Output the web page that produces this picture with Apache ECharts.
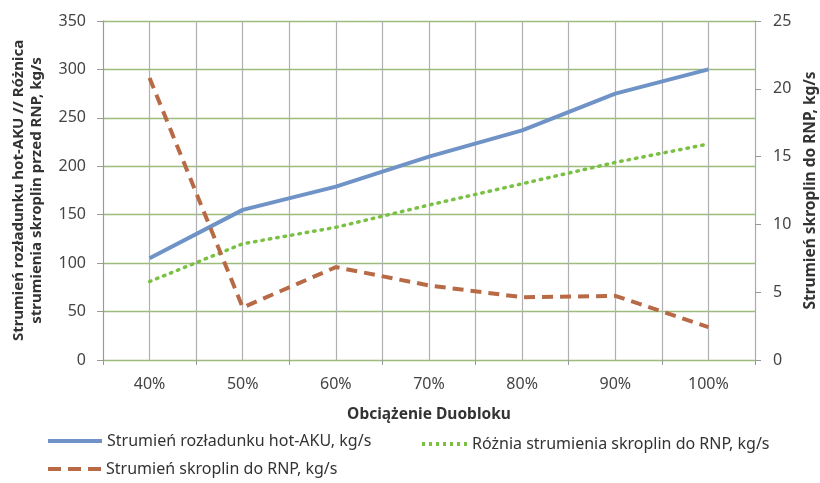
<!DOCTYPE html>
<html><head><meta charset="utf-8">
<script src="https://cdn.jsdelivr.net/npm/echarts@6/dist/echarts.min.js"></script>
<style>html,body{margin:0;padding:0;background:#fff}#c{width:820px;height:483px}</style>
</head><body><div id="c"></div>
<script>
const categories = ['40%','50%','60%','70%','80%','90%','100%'];
const halfCategories = ['a','b','c','d','e','f','g','h','i','j','k','l','m','n'];
const hotAku = [105, 155, 179, 210, 237, 275, 300];
const roznica = [81, 120, 137, 160, 182, 204, 223];
const skropliny = [20.8, 3.87, 6.85, 5.5, 4.63, 4.73, 2.42];
const leftTicks = [0, 350, 50];
const rightTicks = [0, 25, 5];
const names = ['Strumień rozładunku hot-AKU, kg/s','Różnia strumienia skroplin do RNP, kg/s','Strumień skroplin do RNP, kg/s'];

const FONT = "'Noto Sans',sans-serif";
const chart = echarts.init(document.getElementById('c'));
const legendBase = {orient:'horizontal', itemHeight:4, symbolKeepAspect:false,
  textStyle:{fontFamily:FONT, fontSize:16, color:'#333'}};
const solidIcon = 'path://M0,0h56v4h-56z';
const dotIcon = 'path://M0,0h3v4h-3zM7,0h3v4h-3zM14,0h3v4h-3zM21,0h3v4h-3zM28,0h3v4h-3zM35,0h3v4h-3zM42,0h3v4h-3z';
const dashIcon = 'path://M0,0h13v4h-13zM20,0h13v4h-13zM40,0h13v4h-13z';
chart.setOption({
  animation:false,
  grid:{left:103, right:65, top:21, bottom:123, outerBoundsMode:'none', containLabel:false},
  legend:[
    Object.assign({}, legendBase, {data:[{name:names[0], icon:solidIcon}], itemWidth:54, left:43, top:428}),
    Object.assign({}, legendBase, {data:[{name:names[1], icon:dotIcon}], itemWidth:45, left:417, top:431}),
    Object.assign({}, legendBase, {data:[{name:names[2], icon:dashIcon}], itemWidth:53, left:43, top:456})
  ],
  xAxis:[
    {type:'category', data:categories, boundaryGap:true,
     name:'Obciążenie Duobloku', nameLocation:'middle', nameGap:47,
     nameTextStyle:{fontFamily:FONT, fontSize:15.5, fontWeight:'bold', color:'#333'},
     axisLine:{lineStyle:{color:'#9cbb7c'}},
     axisTick:{show:true, length:5, lineStyle:{color:'#999'}},
     axisLabel:{fontFamily:FONT, fontSize:16, color:'#444', margin:16},
     splitLine:{show:false}},
    {type:'category', data:halfCategories, boundaryGap:true, position:'bottom',
     axisLine:{show:false}, axisTick:{show:false}, axisLabel:{show:false},
     splitLine:{show:true, lineStyle:{color:'#b0b0b0', width:1.2}}}
  ],
  yAxis:[
    {type:'value', min:leftTicks[0], max:leftTicks[1], interval:leftTicks[2],
     name:'Strumień rozładunku hot-AKU // Różnica\nstrumienia skroplin przed RNP, kg/s',
     nameLocation:'middle', nameGap:57, nameRotate:90,
     nameTextStyle:{fontFamily:FONT, fontSize:15, fontWeight:'bold', color:'#333', lineHeight:18},
     axisLine:{show:true, lineStyle:{color:'#999'}},
     axisTick:{show:true, length:6, lineStyle:{color:'#999'}},
     axisLabel:{fontFamily:FONT, fontSize:16, color:'#444', margin:17},
     splitLine:{show:true, lineStyle:{color:'#9cbb7c', width:1.3}}},
    {type:'value', min:rightTicks[0], max:rightTicks[1], interval:rightTicks[2], position:'right',
     name:'Strumień skroplin do RNP, kg/s', nameLocation:'middle', nameGap:47, nameRotate:90,
     nameTextStyle:{fontFamily:FONT, fontSize:15.5, fontWeight:'bold', color:'#333'},
     axisLine:{show:true, lineStyle:{color:'#9cbb7c'}},
     axisTick:{show:true, length:6, lineStyle:{color:'#999'}},
     axisLabel:{fontFamily:FONT, fontSize:16, color:'#444', margin:18},
     splitLine:{show:false}}
  ],
  series:[
    {name:names[0], type:'line', data:hotAku, yAxisIndex:0, xAxisIndex:0, symbol:'none',
     lineStyle:{color:'#6f93c6', width:4}, itemStyle:{color:'#6f93c6'}},
    {name:names[1], type:'line', data:roznica, yAxisIndex:0, xAxisIndex:0, symbol:'none',
     lineStyle:{color:'#7ac143', width:3.5, type:[1.5,6], cap:'round'}, itemStyle:{color:'#7ac143'}},
    {name:names[2], type:'line', data:skropliny, yAxisIndex:1, xAxisIndex:0, symbol:'none',
     lineStyle:{color:'#b86a46', width:4, type:[11,7]}, itemStyle:{color:'#b86a46'}}
  ]
});
</script></body></html>
